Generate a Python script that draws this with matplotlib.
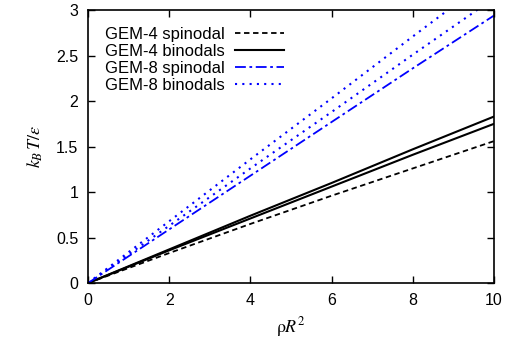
import numpy as np
import matplotlib
matplotlib.use("Agg")
import matplotlib.pyplot as plt

plt.rcParams['font.family'] = ['Liberation Sans', 'DejaVu Sans']
plt.rcParams['mathtext.fontset'] = 'stix'

# densities rho R^2
rho = [0, 2, 4, 6, 8, 10]

# GEM-4
gem4_spinodal = [0, 0.33, 0.65, 0.96, 1.26, 1.56]
gem4_binodal_hi = [0, 0.37, 0.74, 1.10, 1.47, 1.83]
gem4_binodal_lo = [0, 0.36, 0.71, 1.06, 1.41, 1.75]

# GEM-8
gem8_spinodal = [0, 0.59, 1.18, 1.77, 2.36, 2.94]
gem8_binodal_hi = [0, 0.68, 1.36, 2.03, 2.71, 3.38]
gem8_binodal_lo = [0, 0.63, 1.26, 1.88, 2.51, 3.13]

fig = plt.figure(figsize=(5.06, 3.39), dpi=100)
ax = fig.add_axes([0.174, 0.165, 0.802, 0.805])

ax.plot(rho, gem4_spinodal, color='black', lw=1.3, ls=(0, (3, 2)), label='GEM-4 spinodal')
ax.plot(rho, gem4_binodal_hi, color='black', lw=1.5, label='GEM-4 binodals')
ax.plot(rho, gem4_binodal_lo, color='black', lw=1.5)
ax.plot(rho, gem8_spinodal, color='#0000ff', lw=1.3, ls=(0, (6, 2, 1.5, 2)), label='GEM-8 spinodal')
ax.plot(rho, gem8_binodal_hi, color='#0000ff', lw=1.5, ls=(0, (1, 2.5)), label='GEM-8 binodals')
ax.plot(rho, gem8_binodal_lo, color='#0000ff', lw=1.5, ls=(0, (1, 2.5)))

ax.set_xlim(0, 10)
ax.set_ylim(0, 3)
ax.set_xticks([0, 2, 4, 6, 8, 10])
ax.set_yticks([0, 0.5, 1, 1.5, 2, 2.5, 3])
ax.set_yticklabels(['0', '0.5', '1', '1.5', '2', '2.5', '3'])
ax.tick_params(direction='in', top=True, right=True, length=5, width=1, labelsize=11.5, pad=7)
for s in ax.spines.values():
    s.set_linewidth(1.2)

ax.set_xlabel(r'$\mathrm{\rho} R^2$', fontsize=13, labelpad=5)
ax.set_ylabel(r'$k_B\,T/\varepsilon$', fontsize=13, labelpad=8)

leg = ax.legend(loc='upper left', frameon=False, fontsize=12, markerfirst=False,
                handlelength=2.9, labelspacing=0.12, borderaxespad=0.6,
                handletextpad=0.65, borderpad=0.4)

fig.savefig('out.png', dpi=100)
